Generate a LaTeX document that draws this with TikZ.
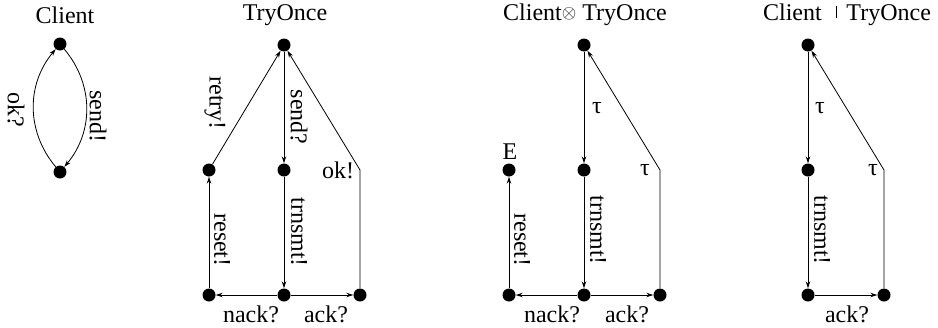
\documentclass[tikz,border=0pt]{standalone}
\usepackage{fontspec}
\usepackage{graphicx}
\setmainfont{Liberation Serif}
\usetikzlibrary{arrows.meta}
\begin{document}
\begin{tikzpicture}[x=1pt,y=1pt,
  st/.style={circle,fill=black,inner sep=0pt,minimum size=13pt},
  tr/.style={line width=0.8pt,-{Stealth[length=7pt,width=4.5pt]}},
  lab/.style={font=\fontsize{24}{28}\selectfont,inner sep=0pt},
  vlab/.style={lab,rotate=-90}]
\useasboundingbox (0,0) rectangle (938,-327);
% ---------- Client
\node[lab] (t1) at (65,-15) {Client};
\node[st] (c1) at (60,-44) {};
\node[st] (c2) at (60,-172) {};
\draw[tr] (c2) to[bend left=40] (c1);
\draw[tr] (c1) to[bend left=40] (c2);
\node[vlab] (lok) at (16,-110) {ok?};
\node[vlab] (lsend) at (98,-116) {send!};
% ---------- TryOnce
\node[lab] (t2) at (285,-15) {TryOnce};
\node[st] (a0) at (284,-45) {};
\node[st] (a1) at (209,-170) {};
\node[st] (a2) at (284,-170) {};
\node[st] (a3) at (209,-295) {};
\node[st] (a4) at (284,-295) {};
\node[st] (a5) at (360,-295) {};
\coordinate (ak) at (360,-170);
\draw[tr] (a1) -- (a0);
\draw[tr] (a0) -- (a2);
\draw[tr] (a2) -- (a4);
\draw[tr] (a3) -- (a1);
\draw[tr] (a4) -- (a3);
\draw[tr] (a4) -- (a5);
\draw[tr] (a5) -- (ak) -- (a0);
\node[vlab] (lretry) at (215,-103) {retry!};
\node[vlab] (lsendq) at (299,-117) {send?};
\node[lab] (lok2) at (338,-170) {ok!};
\node[vlab] (lreset) at (222,-240) {reset!};
\node[vlab] (ltr) at (299,-232) {trnsmt!};
\node[lab] (lnack) at (251,-314) {nack?};
\node[lab] (lack) at (326,-314) {ack?};
% ---------- Client (x) TryOnce
\node[lab] (t3) at (585,-15) {Client{\raisebox{0.1em}{\scalebox{0.75}{$\otimes$}}} TryOnce};
\node[st] (b0) at (584,-45) {};
\node[st] (b1) at (509,-170) {};
\node[st] (b2) at (584,-170) {};
\node[st] (b3) at (509,-295) {};
\node[st] (b4) at (584,-295) {};
\node[st] (b5) at (660,-295) {};
\coordinate (bk) at (660,-170);
\draw[tr] (b0) -- (b2);
\draw[tr] (b2) -- (b4);
\draw[tr] (b3) -- (b1);
\draw[tr] (b4) -- (b3);
\draw[tr] (b4) -- (b5);
\draw[tr] (b5) -- (bk) -- (b0);
\node[lab] (lE) at (510,-152) {E};
\node[lab] (ltau1) at (597,-108) {τ};
\node[lab] (ltau2) at (645,-170) {τ};
\node[vlab] (lreset2) at (522,-240) {reset!};
\node[vlab] (ltr2) at (598,-230) {trnsmt!};
\node[lab] (lnack2) at (552,-314) {nack?};
\node[lab] (lack2) at (627,-314) {ack?};
% ---------- Client | TryOnce
\node[lab] (t4) at (847,-15) {Client\hspace{0.6em}\raisebox{0.12em}{\rule{0.7pt}{0.5em}}\hspace{0.4em}TryOnce};
\node[st] (d0) at (808,-45) {};
\node[st] (d2) at (808,-170) {};
\node[st] (d4) at (808,-295) {};
\node[st] (d5) at (884,-295) {};
\coordinate (dk) at (884,-170);
\draw[tr] (d0) -- (d2);
\draw[tr] (d2) -- (d4);
\draw[tr] (d4) -- (d5);
\draw[tr] (d5) -- (dk) -- (d0);
\node[lab] (ltau3) at (820,-108) {τ};
\node[lab] (ltau4) at (873,-170) {τ};
\node[vlab] (ltr3) at (822,-230) {trnsmt!};
\node[lab] (lack3) at (847,-314) {ack?};
\end{tikzpicture}
\end{document}
